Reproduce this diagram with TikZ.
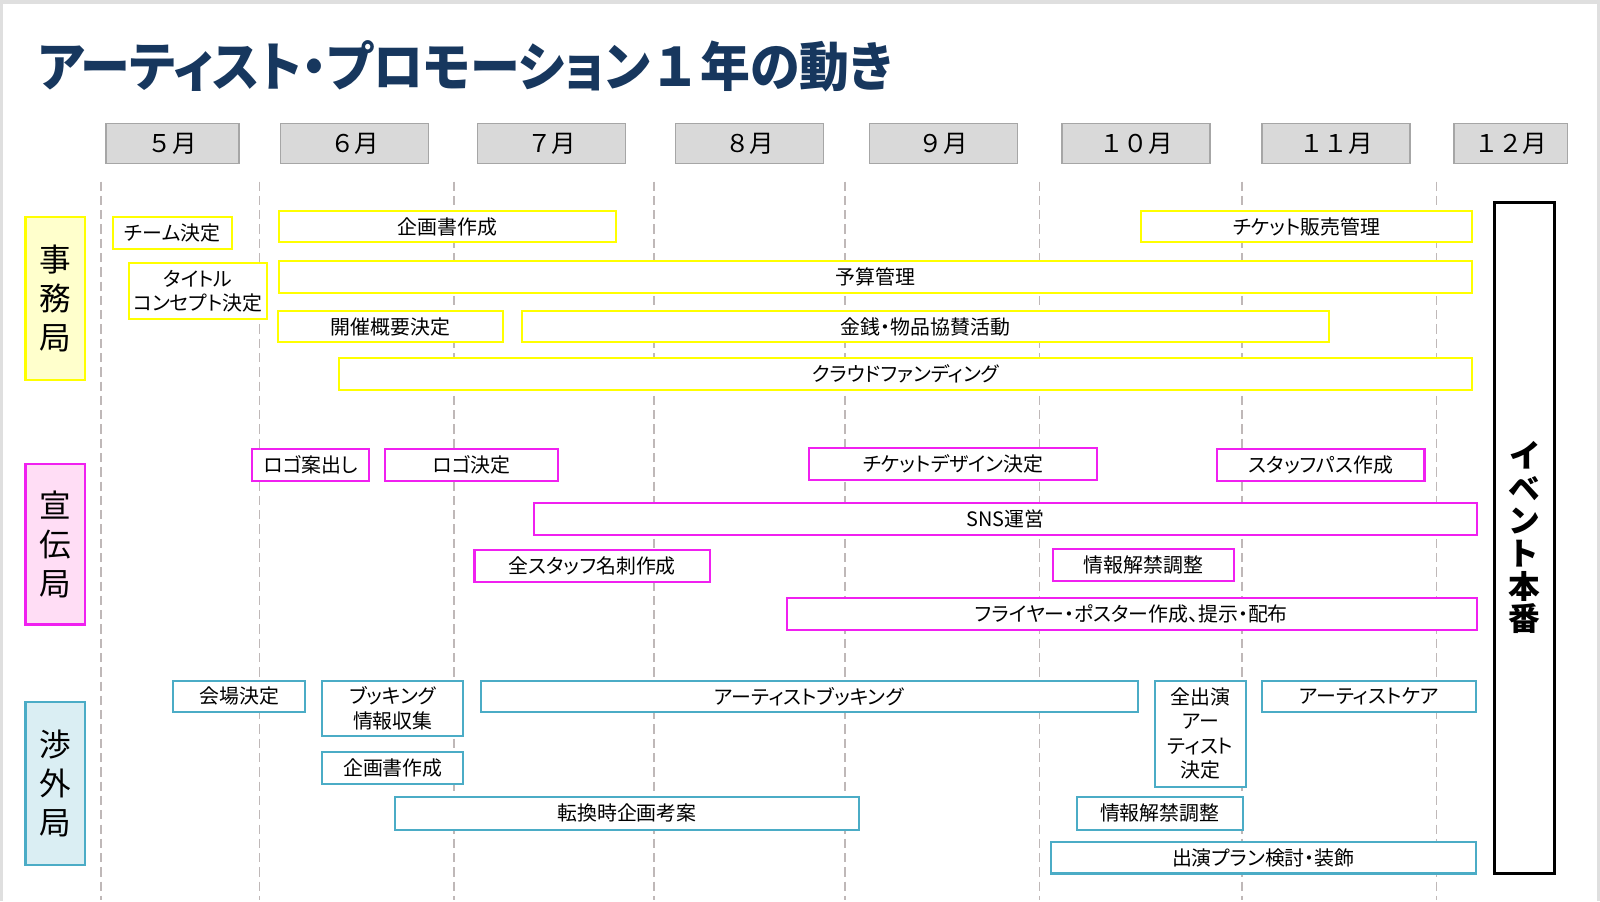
\documentclass[tikz,border=0pt]{standalone}
\usepackage{fontspec}
\setmainfont{Noto Sans CJK JP}[RawFeature=+palt]
\newfontfamily\fullwidth{Noto Sans CJK JP}
\definecolor{titleblue}{HTML}{17375E}
\definecolor{jimuline}{HTML}{FFFF00}
\definecolor{jimufill}{HTML}{FFFFCC}
\definecolor{sendenline}{HTML}{F020F0}
\definecolor{sendenfill}{HTML}{FFDDF5}
\definecolor{shogailine}{HTML}{4BACC6}
\definecolor{shogaifill}{HTML}{DAEEF3}
\definecolor{monthline}{HTML}{A6A6A6}
\definecolor{monthfill}{HTML}{D9D9D9}
\definecolor{gridline}{HTML}{BFB8B8}
\begin{document}
\begin{tikzpicture}[
    x=1pt, y=-1pt,
    every node/.style={inner sep=1pt, align=center, font=\fontsize{19.5}{24}\selectfont},
    month/.style={draw=monthline, fill=monthfill, line width=1.5pt, minimum height=39pt,
        font=\fullwidth\fontsize{24}{24}\selectfont},
    bureau/.style={line width=2pt, minimum width=58pt, font=\fontsize{31}{38}\selectfont},
    task/.style={fill=white, line width=2pt, minimum height=31pt},
    jimu/.style={task, draw=jimuline},
    senden/.style={task, draw=sendenline},
    shogai/.style={task, draw=shogailine}
]
\useasboundingbox (0,0) rectangle (1568,883);
\fill[gray!25] (0,0) rectangle (1568,883);
\fill[white] (3,4) rectangle (1565,883);

% title
\node[anchor=west, text=titleblue, font=\fontsize{52}{52}\selectfont\bfseries] (title) at (36,65)
    {\scalebox{0.94}[1]{アーティスト・プロモーション{\fullwidth １}年の動き}};

% months
\foreach \cx/\w/\m [count=\i] in {169/130/５月, 347.5/145/６月, 540.5/145/７月, 734.5/145/８月,
    924.5/145/９月, 1113.5/145/１０月, 1309.5/145/１１月, 1480.5/111/１２月}
    \node[month, minimum width=\w pt] (mon\i) at (\cx,140.5) {\m};

% month borders
\foreach \x in {99,254,445,641,828,1019,1217,1408}
    \draw[gridline, line width=1.3pt, dash pattern=on 9pt off 5pt] (\x,178) -- (\x,882);

% bureaus
\node[bureau, draw=jimuline, fill=jimufill, minimum height=159pt] (jimu) at (54,292.5) {事\\務\\局};
\node[bureau, draw=sendenline, fill=sendenfill, minimum height=157pt] (senden) at (54,533.5) {宣\\伝\\局};
\node[bureau, draw=shogailine, fill=shogaifill, minimum height=160pt] (shogai) at (54,768) {渉\\外\\局};

% 事務局
\node[jimu, minimum width=116pt] (team) at (169,228.5) {チーム決定};
\node[jimu, minimum width=136pt, minimum height=55pt] (concept) at (194,285.5) {タイトル\\コンセプト決定};
\node[jimu, minimum width=331pt] (kikaku) at (438.5,222) {企画書作成};
\node[jimu, minimum width=325pt] (hanbai) at (1280.5,222) {チケット販売管理};
\node[jimu, minimum width=1170pt] (yosan) at (858,271.5) {予算管理};
\node[jimu, minimum width=221pt] (gaiyo) at (382.5,320) {開催概要決定};
\node[jimu, minimum width=790pt] (kyosan) at (907,320) {金銭・物品協賛活動};
\node[jimu, minimum width=1111pt] (crowd) at (887.5,366.5) {クラウドファンディング};

% 宣伝局
\node[senden, minimum width=115pt] (logoan) at (304.5,455.5) {ロゴ案出し};
\node[senden, minimum width=170pt] (logo) at (462,455.5) {ロゴ決定};
\node[senden, minimum width=282pt] (design) at (934,454.5) {チケットデザイン決定};
\node[senden, minimum width=203pt] (pass) at (1294.5,455.5) {スタッフパス作成};
\node[senden, minimum width=924pt] (sns) at (985,508.5) {SNS運営};
\node[senden, minimum width=231pt] (meishi) at (580.5,554.5) {全スタッフ名刺作成};
\node[senden, minimum width=177pt] (kaikin) at (1120.5,553.5) {情報解禁調整};
\node[senden, minimum width=676pt] (flyer) at (1109,601.5) {フライヤー・ポスター作成、提示・配布};

% 渉外局
\node[shogai, minimum width=129pt] (kaijo) at (234.5,682.5) {会場決定};
\node[shogai, minimum width=138pt, minimum height=54pt] (joho) at (385,694) {ブッキング\\情報収集};
\node[shogai, minimum width=138pt] (kikaku2) at (385,752.5) {企画書作成};
\node[shogai, minimum width=455pt, minimum height=32pt] (tenkan) at (614.5,797) {転換時企画考案};
\node[shogai, minimum width=644pt] (booking) at (793,682.5) {アーティストブッキング};
\node[shogai, minimum width=89pt, minimum height=104pt] (zenin) at (1176.5,719) {全出演\\アー\\ティスト\\決定};
\node[shogai, minimum width=209pt] (care) at (1341.5,682.5) {アーティストケア};
\node[shogai, minimum width=163pt, minimum height=32pt] (kaikin2) at (1136.5,797) {情報解禁調整};
\node[shogai, minimum width=416pt] (plan) at (1238,840.5) {出演プラン検討・装飾};

% event
\node[draw, fill=white, line width=3pt, minimum width=58pt, minimum height=658pt,
    font=\fontsize{31}{32}\selectfont\bfseries] (event) at (1494,527) {イ\\ベ\\ン\\ト\\本\\番};
\end{tikzpicture}
\end{document}
